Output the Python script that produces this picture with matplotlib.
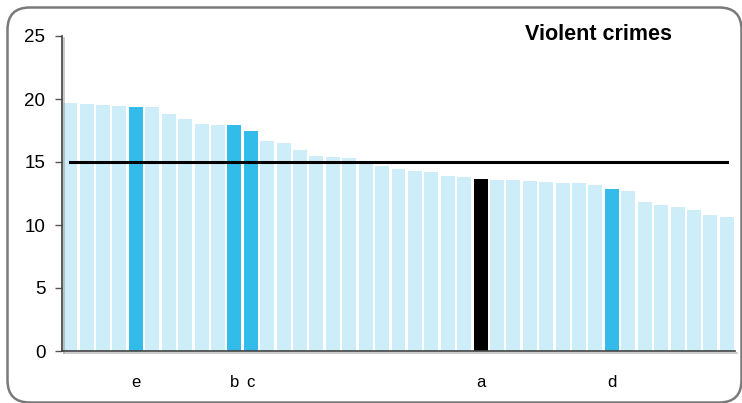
import numpy as np
import matplotlib
matplotlib.use("Agg")
from matplotlib import pyplot as plt
from matplotlib.patches import FancyBboxPatch
import matplotlib.patheffects as pe

plt.rcParams['font.family'] = ['Liberation Sans', 'DejaVu Sans']

values = [19.67, 19.59, 19.50, 19.43, 19.35, 19.35, 18.79, 18.39, 17.99, 17.91,
          17.91, 17.50, 16.64, 16.48, 15.92, 15.45, 15.37, 15.29, 15.05, 14.65,
          14.41, 14.25, 14.17, 13.85, 13.77, 13.69, 13.54, 13.54, 13.46, 13.38,
          13.30, 13.30, 13.14, 12.82, 12.66, 11.86, 11.55, 11.39, 11.23, 10.83,
          10.67]
highlight = {4: 'e', 10: 'b', 11: 'c', 25: 'a', 33: 'd'}
black_bar = 25
average = 15.0
yticks = [0, 5, 10, 15, 20, 25]
title = "Violent crimes"

light = '#cdedf9'
blue = '#33bbea'

x = np.arange(len(values))
colors = []
for i in x:
    if i == black_bar:
        colors.append('black')
    elif i in highlight:
        colors.append(blue)
    else:
        colors.append(light)

fig = plt.figure(figsize=(7.42, 4.03), dpi=100)
ax = fig.add_axes([62 / 742, 1 - 351 / 403, 673 / 742, 315 / 403])

ax.bar(x, values, width=0.85, color=colors, zorder=2)
ax.plot([x[0], x[-1]], [average, average], color='black', lw=2.2, zorder=3)

ax.set_xlim(-0.5, len(values) - 0.5)
ax.set_ylim(0, 25)
ax.set_yticks(yticks)
ax.set_yticklabels([str(t) for t in yticks], fontsize=13.5)
ax.tick_params(axis='y', direction='out', length=5, width=1, color='#555555', pad=7)

labels = [highlight.get(i, '') for i in x]
ax.set_xticks(x)
ax.set_xticklabels(labels, fontsize=12)
ax.tick_params(axis='x', length=0, pad=17)

for side in ['top', 'right']:
    ax.spines[side].set_visible(False)
for side in ['left', 'bottom']:
    ax.spines[side].set_color('#404040')
    ax.spines[side].set_linewidth(1.2)
    ax.spines[side].set_path_effects([
        pe.SimpleLineShadow(offset=(1.2, -1.2), shadow_color='#999999', alpha=0.6),
        pe.Normal()])

ax.text(0.906, 1.006, title, transform=ax.transAxes, ha='right', va='center',
        fontsize=15.5, fontweight='bold')

border = FancyBboxPatch((7.5 / 742, 0.5 / 403), 734 / 742, 395 / 403,
                        boxstyle='round,pad=0,rounding_size=0.03',
                        transform=fig.transFigure, fill=False,
                        edgecolor='#7a7a7a', lw=1.8, mutation_aspect=742 / 403)
fig.patches.append(border)

fig.savefig('out.png', dpi=100)
plt.close(fig)
